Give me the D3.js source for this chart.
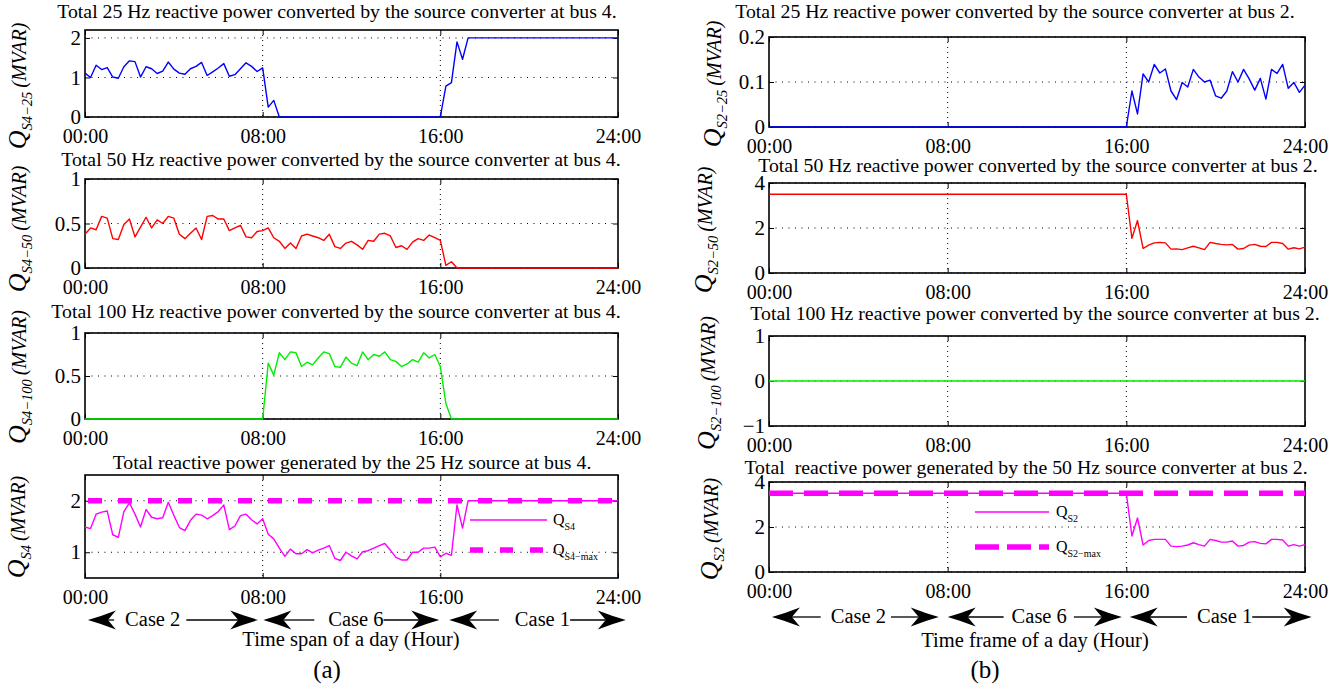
<!DOCTYPE html>
<html>
<head>
<meta charset="utf-8">
<script src="https://cdn.jsdelivr.net/npm/d3@7"></script>
<style>
  html, body { margin: 0; padding: 0; background: #fff; }
  svg { display: block; font-family: "Liberation Serif", "Times New Roman", serif; }
</style>
</head>
<body>
<svg id="fig" width="1337" height="691"></svg>
<script>
// ---------------- data ----------------
// sample instants: one value every 15 minutes over the day
const hours = d3.range(0, 24.001, 0.25);
const timeTicks = [0, 8, 16, 24];
const timeTickLabels = ["00:00", "08:00", "16:00", "24:00"];

// bus 4, 25 Hz reactive power converted (MVAR)
const q25Bus4 = [
  1.11,1.00,1.31,1.20,1.25,1.01,0.98,1.27,1.42,1.40,1.01,1.27,1.22,1.10,1.16,1.39,
  1.21,1.11,1.08,1.22,1.28,1.38,1.05,1.14,1.24,1.35,1.03,1.07,1.22,1.37,1.28,1.15,
  1.24,0.25,0.42,0,0,0,0,0,0,0,0,0,0,0,0,0,
  0,0,0,0,0,0,0,0,0,0,0,0,0,0,0,0,
  0,0.78,0.87,1.90,1.46,2,2,2,2,2,2,2,2,2,2,2,
  2,2,2,2,2,2,2,2,2,2,2,2,2,2,2,2,
  2
];
// bus 4, 50 Hz reactive power converted (MVAR)
const q50Bus4 = [
  0.38,0.45,0.43,0.58,0.56,0.33,0.32,0.49,0.55,0.35,0.46,0.57,0.45,0.54,0.50,0.58,
  0.56,0.38,0.33,0.39,0.45,0.32,0.58,0.59,0.55,0.55,0.42,0.45,0.48,0.35,0.34,0.41,
  0.42,0.45,0.34,0.30,0.22,0.28,0.22,0.36,0.38,0.36,0.34,0.31,0.38,0.24,0.22,0.28,
  0.30,0.26,0.21,0.31,0.30,0.38,0.39,0.36,0.23,0.25,0.21,0.29,0.33,0.31,0.37,0.34,
  0.31,0.03,0.07,0,0,0,0,0,0,0,0,0,0,0,0,0,
  0,0,0,0,0,0,0,0,0,0,0,0,0,0,0,0,
  0
];
// bus 4, 100 Hz reactive power converted (MVAR)
const q100Bus4 = [
  0,0,0,0,0,0,0,0,0,0,0,0,0,0,0,0,
  0,0,0,0,0,0,0,0,0,0,0,0,0,0,0,0,
  0,0.65,0.51,0.77,0.69,0.78,0.77,0.61,0.66,0.63,0.71,0.78,0.76,0.61,0.60,0.72,
  0.65,0.62,0.78,0.69,0.75,0.73,0.78,0.69,0.67,0.61,0.64,0.69,0.66,0.77,0.71,0.75,
  0.61,0.18,0,0,0,0,0,0,0,0,0,0,0,0,0,0,
  0,0,0,0,0,0,0,0,0,0,0,0,0,0,0,0,
  0
];
// bus 4, total reactive power of the 25 Hz source (MVAR)
const qTotalBus4 = [
  1.49,1.46,1.74,1.78,1.80,1.34,1.29,1.79,1.96,1.74,1.49,1.83,1.68,1.65,1.67,1.97,
  1.72,1.48,1.42,1.62,1.74,1.72,1.65,1.71,1.79,1.92,1.44,1.51,1.71,1.74,1.63,1.55,
  1.65,1.35,1.26,1.08,0.92,1.06,0.97,0.97,1.05,0.99,1.04,1.08,1.13,0.88,0.84,1.00,
  0.93,0.87,1.01,1.03,1.08,1.13,1.17,1.04,0.90,0.85,0.85,1.00,1.00,1.08,1.08,1.10,
  0.91,0.98,0.94,1.92,1.47,2,2,2,2,2,2,2,2,2,2,2,
  2,2,2,2,2,2,2,2,2,2,2,2,2,2,2,2,
  2
];
const qMaxBus4 = 2;

// bus 2, 25 Hz reactive power converted (MVAR)
const q25Bus2 = [
  0,0,0,0,0,0,0,0,0,0,0,0,0,0,0,0,
  0,0,0,0,0,0,0,0,0,0,0,0,0,0,0,0,
  0,0,0,0,0,0,0,0,0,0,0,0,0,0,0,0,
  0,0,0,0,0,0,0,0,0,0,0,0,0,0,0,0,
  0,0.080,0.029,0.118,0.100,0.139,0.120,0.129,0.080,0.061,0.099,0.089,0.128,0.111,0.100,0.104,
  0.069,0.064,0.080,0.123,0.100,0.128,0.107,0.082,0.108,0.062,0.128,0.119,0.139,0.086,0.099,0.077,
  0.093
];
// bus 2, 50 Hz reactive power converted (MVAR)
const q50Bus2 = [
  3.5,3.5,3.5,3.5,3.5,3.5,3.5,3.5,3.5,3.5,3.5,3.5,3.5,3.5,3.5,3.5,
  3.5,3.5,3.5,3.5,3.5,3.5,3.5,3.5,3.5,3.5,3.5,3.5,3.5,3.5,3.5,3.5,
  3.5,3.5,3.5,3.5,3.5,3.5,3.5,3.5,3.5,3.5,3.5,3.5,3.5,3.5,3.5,3.5,
  3.5,3.5,3.5,3.5,3.5,3.5,3.5,3.5,3.5,3.5,3.5,3.5,3.5,3.5,3.5,3.5,
  3.5,1.54,2.33,1.09,1.24,1.34,1.36,1.34,1.06,1.07,1.04,1.12,1.19,1.12,1.04,1.36,
  1.31,1.27,1.25,1.27,1.06,1.09,1.24,1.27,1.19,1.18,1.36,1.36,1.31,1.06,1.12,1.07,
  1.15
];
// bus 2, 100 Hz reactive power converted (MVAR)
const q100Bus2 = [
  0,0,0,0,0,0,0,0,0,0,0,0,0,0,0,0,
  0,0,0,0,0,0,0,0,0,0,0,0,0,0,0,0,
  0,0,0,0,0,0,0,0,0,0,0,0,0,0,0,0,
  0,0,0,0,0,0,0,0,0,0,0,0,0,0,0,0,
  0,0,0,0,0,0,0,0,0,0,0,0,0,0,0,0,
  0,0,0,0,0,0,0,0,0,0,0,0,0,0,0,0,
  0
];
// bus 2, total reactive power of the 50 Hz source converter (MVAR)
const qTotalBus2 = [
  3.5,3.5,3.5,3.5,3.5,3.5,3.5,3.5,3.5,3.5,3.5,3.5,3.5,3.5,3.5,3.5,
  3.5,3.5,3.5,3.5,3.5,3.5,3.5,3.5,3.5,3.5,3.5,3.5,3.5,3.5,3.5,3.5,
  3.5,3.5,3.5,3.5,3.5,3.5,3.5,3.5,3.5,3.5,3.5,3.5,3.5,3.5,3.5,3.5,
  3.5,3.5,3.5,3.5,3.5,3.5,3.5,3.5,3.5,3.5,3.5,3.5,3.5,3.5,3.5,3.5,
  3.5,1.60,2.40,1.20,1.40,1.45,1.45,1.45,1.15,1.13,1.15,1.20,1.30,1.22,1.15,1.45,
  1.40,1.33,1.33,1.38,1.15,1.18,1.33,1.35,1.27,1.25,1.45,1.45,1.42,1.15,1.22,1.15,
  1.22
];
const qMaxBus2 = 3.5;

// y tick values for each panel
const ticksQ25Bus4 = [0, 1, 2];
const ticksQ50Bus4 = [0, 0.5, 1];
const ticksQ100Bus4 = [0, 0.5, 1];
const ticksTotalBus4 = [1, 2];
const ticksQ25Bus2 = [0, 0.1, 0.2];
const ticksQ50Bus2 = [0, 2, 4];
const ticksQ100Bus2 = [-1, 0, 1];
const ticksTotalBus2 = [0, 2, 4];

// operating cases along the day (hours): label, arrow tips, label centre
const caseLabels = ["Case 2", "Case 6", "Case 1"];
const caseSpansA = [[0.13, 7.8], [8.03, 15.95], [16.4, 24.35]];
const caseCentersA = [3.05, 12.2, 20.6];
const caseSpansB = [[0.13, 7.6], [8.0, 15.8], [16.15, 24.3]];
const caseCentersB = [4.0, 12.1, 20.4];

// ---------------- layout ----------------
const svg = d3.select("#fig");
const FONT = '"Liberation Serif","Times New Roman",serif';
const columns = [
  { x: d3.scaleLinear([0, 24], [85, 618]) },
  { x: d3.scaleLinear([0, 24], [769, 1305]) }
];
const minus = v => (v < 0 ? "\u2212" : "") + Math.abs(v);

const panels = [
  { col: 0, top: 30, bottom: 117, domain: [0, 2.2], ticks: ticksQ25Bus4,
    title: "Total 25 Hz reactive power converted by the source converter at bus 4.", titleX: 337, titleY: 18,
    sub: "S4\u221225", labelX: 26, labelY: 86,
    series: [{ values: q25Bus4, color: "#0000ff" }] },
  { col: 0, top: 179, bottom: 268, domain: [0, 1], ticks: ticksQ50Bus4,
    title: "Total 50 Hz reactive power converted by the source converter at bus 4.", titleX: 341, titleY: 166,
    sub: "S4\u221250", labelX: 26, labelY: 229,
    series: [{ values: q50Bus4, color: "#ff0000" }] },
  { col: 0, top: 333, bottom: 419, domain: [0, 1], ticks: ticksQ100Bus4,
    title: "Total 100 Hz reactive power converted by the source converter at bus 4.", titleX: 336, titleY: 318,
    sub: "S4\u2212100", labelX: 26, labelY: 377,
    series: [{ values: q100Bus4, color: "#00ee00" }] },
  { col: 0, top: 475, bottom: 578, domain: [0.5, 2.5], ticks: ticksTotalBus4,
    title: "Total reactive power generated by the 25 Hz source at bus 4.", titleX: 352, titleY: 469,
    sub: "S4", labelX: 25, labelY: 527,
    series: [{ values: qTotalBus4, color: "#ff00ff" }],
    qMax: qMaxBus4,
    legend: { x0: 470, x1: 547, y: [520, 550], tx: 553, names: ["S4", "S4\u2212max"] } },
  { col: 1, top: 37, bottom: 127, domain: [0, 0.2], ticks: ticksQ25Bus2,
    title: "Total 25 Hz reactive power converted by the source converter at bus 2.", titleX: 1015, titleY: 18,
    sub: "S2\u221225", labelX: 721, labelY: 84,
    series: [{ values: q25Bus2, color: "#0000ff" }] },
  { col: 1, top: 183, bottom: 273, domain: [0, 4], ticks: ticksQ50Bus2,
    title: "Total 50 Hz reactive power converted by the source converter at bus 2.", titleX: 1038, titleY: 172,
    sub: "S2\u221250", labelX: 712, labelY: 230,
    series: [{ values: q50Bus2, color: "#ff0000" }] },
  { col: 1, top: 336, bottom: 426, domain: [-1, 1], ticks: ticksQ100Bus2,
    title: "Total 100 Hz reactive power converted by the source converter at bus 2.", titleX: 1035, titleY: 320,
    sub: "S2\u2212100", labelX: 715, labelY: 383,
    series: [{ values: q100Bus2, color: "#00ee00" }] },
  { col: 1, top: 482, bottom: 572, domain: [0, 4], ticks: ticksTotalBus2,
    title: "Total  reactive power generated by the 50 Hz source converter at bus 2.", titleX: 1026, titleY: 474,
    sub: "S2", labelX: 718, labelY: 529,
    series: [{ values: qTotalBus2, color: "#ff00ff" }],
    qMax: qMaxBus2,
    legend: { x0: 975, x1: 1049, y: [512, 547], tx: 1056, names: ["S2", "S2\u2212max"] } }
];

function styleAxis(g, size) {
  g.attr("font-family", FONT).attr("font-size", size);
  g.select(".domain").remove();
  g.selectAll(".tick line").attr("stroke", "#000").attr("stroke-width", 1);
  g.selectAll(".tick text").attr("fill", "#000");
}

function drawPanel(p) {
  const x = columns[p.col].x;
  const [left, right] = x.range();
  const y = d3.scaleLinear(p.domain, [p.bottom, p.top]);
  const g = svg.append("g");

  // dotted grid
  g.append("g").selectAll("line").data(p.ticks).join("line")
    .attr("x1", left).attr("x2", right)
    .attr("y1", d => y(d)).attr("y2", d => y(d))
    .attr("stroke", "#000").attr("stroke-width", 1).attr("stroke-dasharray", "1,5.5");
  g.append("g").selectAll("line").data([8, 16]).join("line")
    .attr("x1", d => x(d)).attr("x2", d => x(d))
    .attr("y1", p.top).attr("y2", p.bottom)
    .attr("stroke", "#000").attr("stroke-width", 1).attr("stroke-dasharray", "1,4");

  // axes with inward ticks on all four sides
  g.append("g").attr("transform", `translate(0,${p.bottom})`)
    .call(d3.axisBottom(x).tickValues(timeTicks).tickFormat((d, i) => timeTickLabels[i])
      .tickSizeInner(-5).tickSizeOuter(0).tickPadding(12))
    .call(a => styleAxis(a, 20));
  g.append("g").attr("transform", `translate(0,${p.top})`)
    .call(d3.axisTop(x).tickValues(timeTicks).tickFormat("").tickSizeInner(-5).tickSizeOuter(0))
    .call(a => styleAxis(a, 20));
  g.append("g").attr("transform", `translate(${left},0)`)
    .call(d3.axisLeft(y).tickValues(p.ticks).tickFormat(minus)
      .tickSizeInner(-5).tickSizeOuter(0).tickPadding(4))
    .call(a => styleAxis(a, 21));
  g.append("g").attr("transform", `translate(${right},0)`)
    .call(d3.axisRight(y).tickValues(p.ticks).tickFormat("").tickSizeInner(-5).tickSizeOuter(0))
    .call(a => styleAxis(a, 20));

  // frame
  g.append("rect").attr("x", left).attr("y", p.top)
    .attr("width", right - left).attr("height", p.bottom - p.top)
    .attr("fill", "none").attr("stroke", "#000").attr("stroke-width", 1.6);

  // maximum limit (thick dashed)
  const line = d3.line().x(d => x(d[0])).y(d => y(d[1]));
  if (p.qMax !== undefined) {
    g.append("path").datum([[0, p.qMax], [24, p.qMax]])
      .attr("d", line).attr("fill", "none").attr("stroke", "#ff00ff")
      .attr("stroke-width", 5.5).attr("stroke-dasharray", p.col === 0 ? "14,16" : "24,11")
      .attr("stroke-dashoffset", p.col === 0 ? 27 : 0);
  }

  // series
  p.series.forEach(s => {
    g.append("path").datum(s.values.map((v, i) => [hours[i], v]))
      .attr("d", line).attr("fill", "none").attr("stroke", s.color)
      .attr("stroke-width", 1.4).attr("stroke-linejoin", "round");
  });

  // title
  svg.append("text").attr("x", p.titleX).attr("y", p.titleY)
    .attr("text-anchor", "middle").attr("font-size", 19.8)
    .style("white-space", "pre").text(p.title);

  // y label: Q_{sub} (MVAR)
  const yl = svg.append("text")
    .attr("transform", `translate(${p.labelX},${p.labelY}) rotate(-90)`)
    .attr("text-anchor", "middle").attr("font-style", "italic");
  yl.append("tspan").attr("font-size", 26).text("Q");
  yl.append("tspan").attr("font-size", 14.5).attr("dy", 6).text(p.sub);
  yl.append("tspan").attr("font-size", 20).attr("dy", -6).text("\u2009(MVAR)");

  // legend
  if (p.legend) {
    const L = p.legend;
    g.append("line").attr("x1", L.x0).attr("x2", L.x1).attr("y1", L.y[0]).attr("y2", L.y[0])
      .attr("stroke", "#ff00ff").attr("stroke-width", 1.4);
    g.append("line").attr("x1", L.x0).attr("x2", L.x1).attr("y1", L.y[1]).attr("y2", L.y[1])
      .attr("stroke", "#ff00ff").attr("stroke-width", 5.5)
      .attr("stroke-dasharray", p.col === 0 ? "13,17" : "24,8");
    L.names.forEach((n, i) => {
      const t = g.append("text").attr("x", L.tx).attr("y", L.y[i] + 5).attr("font-size", 16);
      t.append("tspan").text("Q");
      t.append("tspan").attr("font-size", 10).attr("dy", 5).text(n);
    });
  }
}

panels.forEach(drawPanel);

// ---------------- case arrows and x labels ----------------
function arrowHead(g, tipX, y, dir) {
  // filled arrow head with a notched back, pointing right (dir=+1) or left (dir=-1)
  const L = 28, H = 9.5, N = 20;
  const p = d3.path();
  p.moveTo(tipX, y);
  p.quadraticCurveTo(tipX - dir * 14, y - 4, tipX - dir * L, y - H);
  p.lineTo(tipX - dir * N, y);
  p.lineTo(tipX - dir * L, y + H);
  p.quadraticCurveTo(tipX - dir * 14, y + 4, tipX, y);
  p.closePath();
  g.append("path").attr("d", p.toString()).attr("fill", "#000");
}

function drawCases(col, spans, centers, gaps, arrowY, textY) {
  const x = columns[col].x;
  const g = svg.append("g");
  spans.forEach((s, i) => {
    const t = g.append("text").attr("x", x(centers[i])).attr("y", textY)
      .attr("text-anchor", "middle").attr("font-size", 20.5).text(caseLabels[i]);
    const w = t.node().getComputedTextLength();
    const t0 = x(centers[i]) - w / 2, t1 = x(centers[i]) + w / 2;
    const a = x(s[0]), b = x(s[1]);
    arrowHead(g, a, arrowY, -1);
    arrowHead(g, b, arrowY, 1);
    g.append("line").attr("x1", a + 20).attr("x2", t0 - gaps[i][0])
      .attr("y1", arrowY).attr("y2", arrowY).attr("stroke", "#000").attr("stroke-width", 1.3);
    g.append("line").attr("x1", t1 + gaps[i][1]).attr("x2", b - 20)
      .attr("y1", arrowY).attr("y2", arrowY).attr("stroke", "#000").attr("stroke-width", 1.3);
  });
}

drawCases(0, caseSpansA, caseCentersA, [[11, 6], [14, 0], [16, 0]], 620, 626);
drawCases(1, caseSpansB, caseCentersB, [[10, 5], [8, 7], [10, 0]], 617, 623);

svg.append("text").attr("x", 351).attr("y", 646).attr("text-anchor", "middle")
  .attr("font-size", 20.5).text("Time span of a day (Hour)");
svg.append("text").attr("x", 1035).attr("y", 647).attr("text-anchor", "middle")
  .attr("font-size", 20.5).text("Time frame of a day (Hour)");
svg.append("text").attr("x", 327).attr("y", 678).attr("text-anchor", "middle")
  .attr("font-size", 25).text("(a)");
svg.append("text").attr("x", 985).attr("y", 678).attr("text-anchor", "middle")
  .attr("font-size", 25).text("(b)");
</script>
</body>
</html>
